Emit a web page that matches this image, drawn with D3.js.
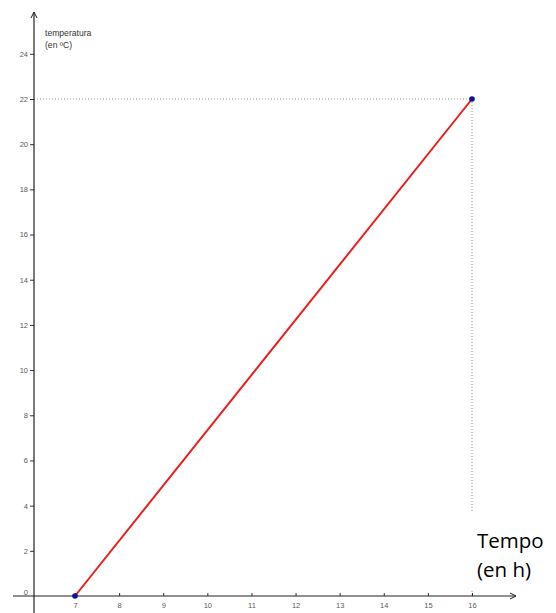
<!DOCTYPE html>
<html>
<head>
<meta charset="utf-8">
<script src="https://cdn.jsdelivr.net/npm/d3@7"></script>
<style>
  body { margin: 0; background: #fff; }
  svg { display: block; }
  .tick text { font-family: "Liberation Sans", Arial, sans-serif; font-size: 7.5px; fill: #5a5a5a; }
</style>
</head>
<body>
<div class="chart"></div>
<script>
// data
var times = [7, 16];          // hours
var temps = [0, 22];          // degrees C
var xTicks = [7, 8, 9, 10, 11, 12, 13, 14, 15, 16];
var yTicks = [0, 2, 4, 6, 8, 10, 12, 14, 16, 18, 20, 22, 24];
var xLabel = ["Tempo", "(en h)"];
var yLabel = ["temperatura", "(en ºC)"];

var svgWidth = 556, svgHeight = 613;

var svg = d3.select(".chart")
    .append("svg")
    .attr("width", svgWidth)
    .attr("height", svgHeight);

var x = d3.scaleLinear().domain([7, 16]).range([75, 472]);
var y = d3.scaleLinear().domain([0, 22]).range([596, 99]);

var axisX = 34;   // pixel where the vertical axis sits
var axisY = y(0);

// dotted guides to the end point
var last = times.length - 1;
svg.append("line")
    .attr("x1", axisX).attr("x2", x(times[last]))
    .attr("y1", y(temps[last])).attr("y2", y(temps[last]))
    .attr("stroke", "#999").attr("stroke-width", 1)
    .attr("stroke-dasharray", "1,2");
svg.append("line")
    .attr("x1", x(times[last])).attr("x2", x(times[last]))
    .attr("y1", y(temps[last])).attr("y2", axisY)
    .attr("stroke", "#999").attr("stroke-width", 1)
    .attr("stroke-dasharray", "1,2");

// x axis
var xAxis = d3.axisBottom(x).tickValues(xTicks).tickSize(0).tickPadding(7);
var gx = svg.append("g")
    .attr("transform", `translate(0,${axisY})`)
    .call(xAxis);
gx.select(".domain").remove();
gx.selectAll(".tick").append("line")
    .attr("y1", -3).attr("y2", 0)
    .attr("stroke", "#333");
svg.append("line")
    .attr("x1", 13).attr("x2", 516)
    .attr("y1", axisY).attr("y2", axisY)
    .attr("stroke", "#222").attr("stroke-width", 1.2);
svg.append("path")
    .attr("d", `M510,${axisY - 3}L516,${axisY}L510,${axisY + 3}`)
    .attr("fill", "none").attr("stroke", "#222").attr("stroke-width", 1);

// y axis
var yAxis = d3.axisLeft(y).tickValues(yTicks).tickSize(4).tickPadding(2);
var gy = svg.append("g")
    .attr("transform", `translate(${axisX},0)`)
    .call(yAxis);
gy.select(".domain").remove();
gy.selectAll(".tick line").attr("stroke", "#333");
gy.selectAll(".tick").filter(d => d === 0).select("line").remove();
gy.selectAll(".tick").filter(d => d === 0).select("text").attr("dy", "-0.2em");
svg.append("line")
    .attr("x1", axisX).attr("x2", axisX)
    .attr("y1", 12).attr("y2", svgHeight)
    .attr("stroke", "#222").attr("stroke-width", 1.2);
svg.append("path")
    .attr("d", `M${axisX - 3},18L${axisX},12L${axisX + 3},18`)
    .attr("fill", "none").attr("stroke", "#222").attr("stroke-width", 1);

// y label
svg.append("g").selectAll("text")
    .data(yLabel)
    .enter()
    .append("text")
    .attr("x", 45)
    .attr("y", (d, i) => 36 + i * 12)
    .attr("font-family", "Liberation Sans, Arial, sans-serif")
    .attr("font-size", 8.6)
    .attr("fill", "#333")
    .text(d => d);

// segment
var line = d3.line()
    .x((d, i) => x(times[i]))
    .y(d => y(d));
svg.append("path")
    .datum(temps)
    .attr("d", line)
    .attr("fill", "none")
    .attr("stroke", "#e8201c")
    .attr("stroke-width", 2);

svg.selectAll("circle")
    .data(temps)
    .enter()
    .append("circle")
    .attr("cx", (d, i) => x(times[i]))
    .attr("cy", d => y(d))
    .attr("r", 2.8)
    .attr("fill", "#10109a");

// x label box (pasted over the guide)
svg.append("rect")
    .attr("x", 470).attr("y", 513)
    .attr("width", 86).attr("height", 76)
    .attr("fill", "#fff");
svg.append("g").selectAll("text")
    .data(xLabel)
    .enter()
    .append("text")
    .attr("x", 477)
    .attr("y", (d, i) => 548 + i * 29)
    .attr("font-family", "Open Sans, Lato, sans-serif")
    .attr("font-size", 20.5)
    .attr("fill", "#000")
    .text(d => d);
</script>
</body>
</html>
